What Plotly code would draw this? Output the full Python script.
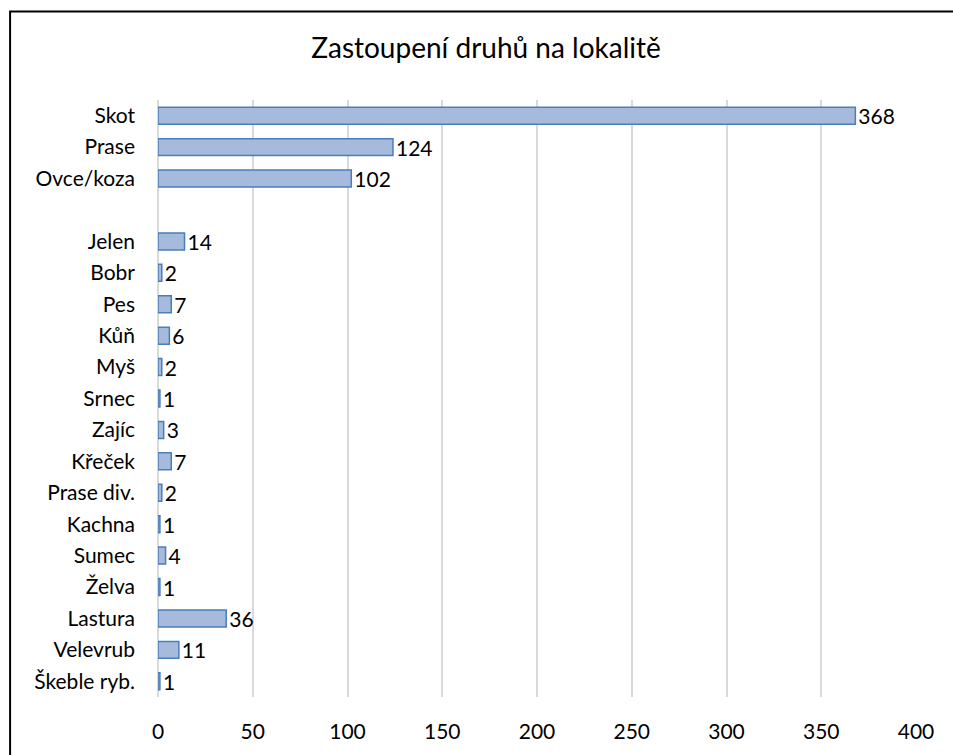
import plotly.graph_objects as go

categories = ["Skot", "Prase", "Ovce/koza", " ", "Jelen", "Bobr", "Pes", "Kůň", "Myš",
              "Srnec", "Zajíc", "Křeček", "Prase div.", "Kachna", "Sumec", "Želva",
              "Lastura", "Velevrub", "Škeble ryb."]
values = [368, 124, 102, None, 14, 2, 7, 6, 2, 1, 3, 7, 2, 1, 4, 1, 36, 11, 1]
x_ticks = [0, 50, 100, 150, 200, 250, 300, 350, 400]
title_text = "Zastoupení druhů na lokalitě"

FONT = "Lato, Liberation Sans, sans-serif"

fig = go.Figure(go.Bar(
    y=categories,
    x=values,
    orientation="h",
    marker=dict(color="#a6badb", line=dict(color="#4a7ebb", width=1.5)),
    text=[("" if v is None else str(v)) for v in values],
    textposition="outside",
    constraintext="none",
    textfont=dict(family=FONT, size=21, color="#000000"),
    cliponaxis=False,
))

W, H = 953, 755
L, R, T, B = 157.5, 37, 100, 55
pw = W - L - R
ph = H - T - B

def px2paper_x(px):
    return (px - L) / pw

def px2paper_y(py):
    return (H - B - py) / ph

fig.add_shape(type="rect", xref="paper", yref="paper",
              x0=px2paper_x(9.5), x1=px2paper_x(965),
              y0=px2paper_y(770), y1=px2paper_y(11),
              line=dict(color="#000000", width=2), fillcolor="rgba(0,0,0,0)", layer="above")

fig.update_layout(
    width=W, height=H,
    margin=dict(l=L, r=R, t=T, b=B, pad=0),
    paper_bgcolor="white", plot_bgcolor="white",
    showlegend=False,
    bargap=0.46,
    font=dict(family=FONT, color="#000000"),
    title=dict(text=title_text, xref="container", yref="container",
               x=486 / W, y=1 - 48 / H, xanchor="center", yanchor="middle",
               font=dict(family=FONT, size=28, color="#000000")),
    xaxis=dict(range=[0, 400], tickvals=x_ticks, showgrid=True, gridcolor="#d9d9d9",
               gridwidth=1.5, zeroline=True, zerolinecolor="#d9d9d9", zerolinewidth=1.5,
               showline=False, ticks="", ticklabelstandoff=20,
               tickfont=dict(family=FONT, size=21, color="#000000")),
    yaxis=dict(autorange="reversed", showgrid=False, showline=False, ticks="",
               ticklabelstandoff=22, tickfont=dict(family=FONT, size=21, color="#000000")),
)

fig.write_html("out.html", config={"displayModeBar": False},
               post_script="document.body.style.margin='0';document.body.style.overflow='hidden';")
